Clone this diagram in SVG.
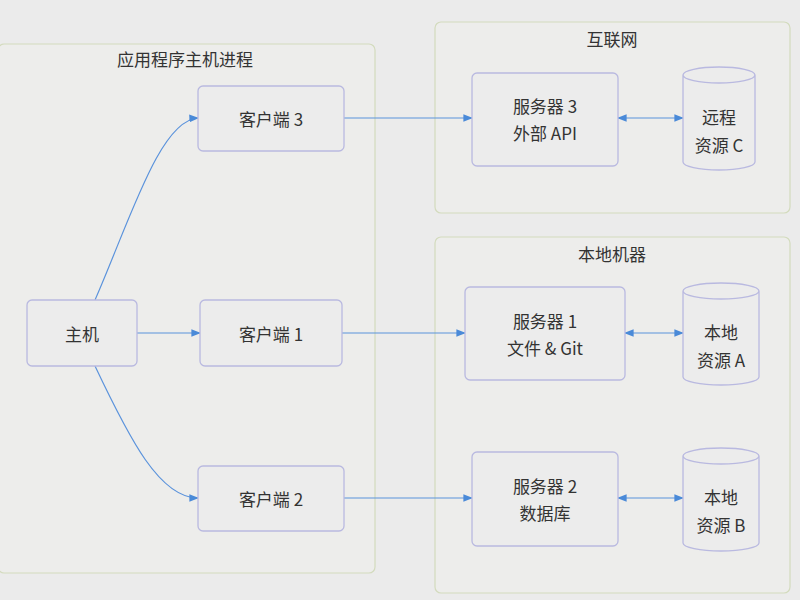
<svg xmlns="http://www.w3.org/2000/svg" width="800" height="600" viewBox="0 0 800 600">
<style>
text{font-family:"Noto Sans CJK SC","Liberation Sans",sans-serif;font-size:17px;fill:#333;text-anchor:middle;dominant-baseline:central}
.grp{fill:#ededeb;stroke:#d3dbbd;stroke-width:1.2}
.node{fill:#ececec;stroke:#b9b9e0;stroke-width:1.3}
.e{fill:none;stroke:#5b93dc;stroke-width:1.2}
</style>
<defs>
<marker id="ah" viewBox="0 0 10 10" refX="9" refY="5" markerWidth="8" markerHeight="8" orient="auto-start-reverse"><path d="M0,1 L10,5 L0,9 z" fill="#4a8ad8"/></marker>
</defs>
<rect width="800" height="600" fill="#ebebeb"/>
<g id="g-host"><rect class="grp" x="-2" y="44" width="377" height="529" rx="6"/><text x="185" y="58">应用程序主机进程</text></g>
<g id="g-internet"><rect class="grp" x="435" y="22" width="355" height="191" rx="6"/><text x="612" y="38">互联网</text></g>
<g id="g-local"><rect class="grp" x="435" y="237" width="355" height="356" rx="6"/><text x="612" y="253">本地机器</text></g>
<g id="edges">
<path class="e" d="M95,300 C130,220 160,120 198,118" marker-end="url(#ah)"/>
<path class="e" d="M137,333 L200,333" marker-end="url(#ah)"/>
<path class="e" d="M95,366 C130,440 160,498 198,498" marker-end="url(#ah)"/>
<path class="e" d="M344,118 L472,118" marker-end="url(#ah)"/>
<path class="e" d="M342,333 L465,333" marker-end="url(#ah)"/>
<path class="e" d="M344,498 L472,498" marker-end="url(#ah)"/>
<path class="e" d="M618,118 L683,118" marker-start="url(#ah)" marker-end="url(#ah)"/>
<path class="e" d="M625,333 L683,333" marker-start="url(#ah)" marker-end="url(#ah)"/>
<path class="e" d="M618,498 L683,498" marker-start="url(#ah)" marker-end="url(#ah)"/>
</g>
<g id="host"><rect class="node" x="27" y="300" width="110" height="66" rx="5"/><text x="82" y="333">主机</text></g>
<g id="client3"><rect class="node" x="198" y="86" width="146" height="65" rx="5"/><text x="271" y="118">客户端 3</text></g>
<g id="client1"><rect class="node" x="200" y="300" width="142" height="66" rx="5"/><text x="271" y="333">客户端 1</text></g>
<g id="client2"><rect class="node" x="198" y="466" width="146" height="65" rx="5"/><text x="271" y="498">客户端 2</text></g>
<g id="server3"><rect class="node" x="472" y="73" width="146" height="93" rx="5"/><text x="545" y="105">服务器 3</text><text x="545" y="132">外部 API</text></g>
<g id="server1"><rect class="node" x="465" y="287" width="160" height="93" rx="5"/><text x="545" y="320">服务器 1</text><text x="545" y="347">文件 &amp; Git</text></g>
<g id="server2"><rect class="node" x="472" y="452" width="146" height="94" rx="5"/><text x="545" y="485">服务器 2</text><text x="545" y="512">数据库</text></g>
<g id="resC"><path class="node" d="M683,75 L683,162 A36,8 0 0 0 755,162 L755,75 A36,8 0 0 0 683,75 A36,8 0 0 0 755,75"/><text x="719" y="116">远程</text><text x="719" y="144">资源 C</text></g>
<g id="resA"><path class="node" d="M683,291 L683,377 A38,8 0 0 0 759,377 L759,291 A38,8 0 0 0 683,291 A38,8 0 0 0 759,291"/><text x="721" y="331">本地</text><text x="721" y="359">资源 A</text></g>
<g id="resB"><path class="node" d="M683,456 L683,543 A38,8 0 0 0 759,543 L759,456 A38,8 0 0 0 683,456 A38,8 0 0 0 759,456"/><text x="721" y="496">本地</text><text x="721" y="524">资源 B</text></g>
</svg>
